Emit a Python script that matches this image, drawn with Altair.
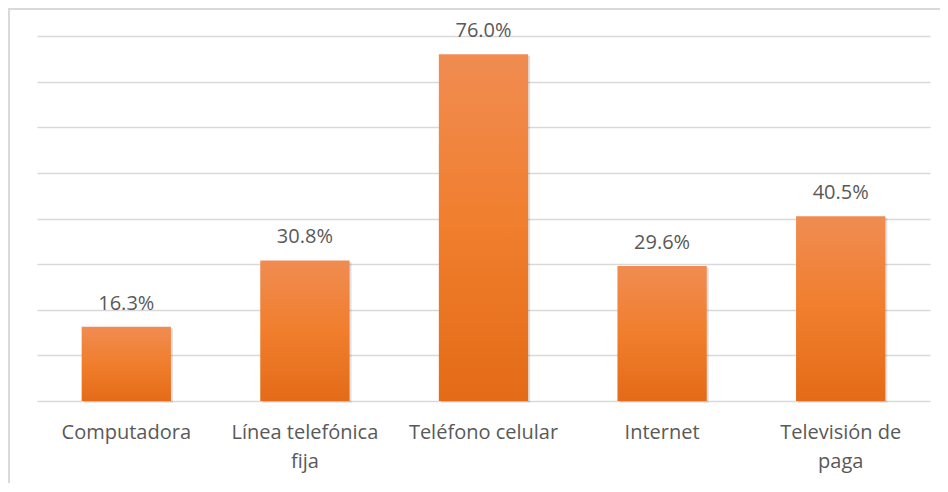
import altair as alt
import pandas as pd

categories = ["Computadora", "Línea telefónica fija", "Teléfono celular", "Internet", "Televisión de paga"]
label_lines = [["Computadora"], ["Línea telefónica", "fija"], ["Teléfono celular"], ["Internet"], ["Televisión de", "paga"]]
values = [16.3, 30.8, 76.0, 29.6, 40.5]
y_ticks = [0, 10, 20, 30, 40, 50, 60, 70, 80]

df = pd.DataFrame({"cat": categories, "val": values})
df["lbl"] = [f"{v:.1f}%" for v in values]

expr_parts = []
for c, lines in zip(categories, label_lines):
    arr = "[" + ",".join("'" + l + "'" for l in lines) + "]"
    expr_parts.append(f"datum.value == '{c}' ? {arr} : ")
label_expr = "".join(expr_parts) + "datum.value"

FONT = "Open Sans"
TXT = "#595959"

x = alt.X("cat:N", sort=categories,
          scale=alt.Scale(paddingInner=0.5, paddingOuter=0.25),
          axis=alt.Axis(title=None, labelAngle=0, labelFont=FONT, labelFontSize=20,
                        labelColor=TXT, labelPadding=21, labelLineHeight=29.5,
                        labelExpr=label_expr, ticks=False, domain=False,
                        labelBaseline="top", grid=False))
y = alt.Y("val:Q", scale=alt.Scale(domain=[0, 80], nice=False),
          axis=alt.Axis(title=None, labels=False, ticks=False, domain=False,
                        values=y_ticks, grid=True, gridColor="#D9D9D9", gridWidth=1.5))

grad = alt.Gradient(gradient="linear",
                    stops=[alt.GradientStop(color="#F08C52", offset=0),
                           alt.GradientStop(color="#F07E2D", offset=0.5),
                           alt.GradientStop(color="#E46B17", offset=1)],
                    x1=0, x2=0, y1=0, y2=1)

shadow = alt.Chart(df).mark_bar(color="#000000", opacity=0.12, xOffset=2, yOffset=1.5, y2Offset=2).encode(x=x, y=y)
bars = alt.Chart(df).mark_bar(color=grad).encode(x=x, y=y)
text = alt.Chart(df).mark_text(font=FONT, fontSize=20, color=TXT, baseline="alphabetic", dy=-17).encode(
    x=alt.X("cat:N", sort=categories), y="val:Q", text="lbl:N")

frame_left = alt.Chart(df).mark_rule(color="#D9D9D9", strokeWidth=2).encode(
    x=alt.value(-28), y=alt.value(-27), y2=alt.value(480))
frame_top = alt.Chart(df).mark_rule(color="#D9D9D9", strokeWidth=2).encode(
    x=alt.value(-29), x2=alt.value(940), y=alt.value(-27))

chart = alt.layer(frame_left, frame_top, shadow, bars, text).properties(
    width=893, height=365,
    padding={"left": 29, "top": 28, "right": 10, "bottom": 82},
    autosize="none",
    background="white",
).configure_view(stroke=None)

chart.save("out.html", embed_options={"renderer": "svg", "actions": False})
